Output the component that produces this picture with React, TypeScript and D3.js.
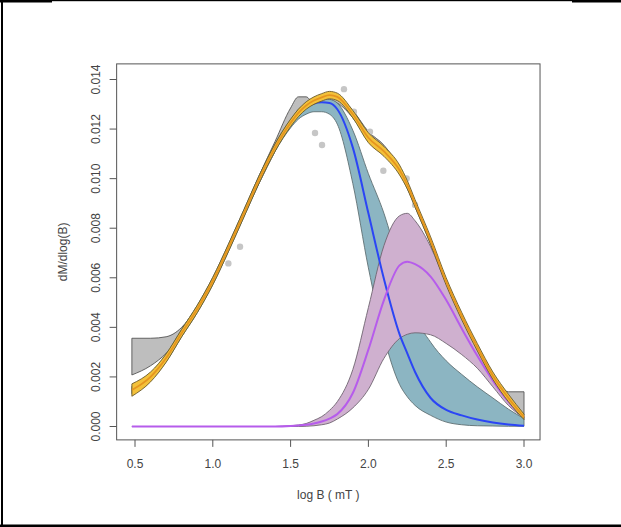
import React from "react";
import * as d3 from "d3";

// x grid (log B, mT)
const logB = [0.48, 0.6, 0.7, 0.8, 0.9, 1.0, 1.1, 1.2, 1.3, 1.4, 1.5, 1.55, 1.6, 1.65, 1.7, 1.75, 1.8, 1.9, 2.0, 2.1, 2.2, 2.25, 2.3, 2.4, 2.5, 2.6, 2.7, 2.8, 2.9, 3.0];

// all values in units of 1e-3
const dataHi = [3.56, 3.56, 3.62, 4.0, 4.85, 5.95, 7.3, 8.7, 10.15, 11.5, 12.85, 13.3, 13.3, 13.05, 13.2, 13.35, 13.3, 12.75, 11.9, 11.35, 10.45, 9.85, 9.05, 7.55, 5.9, 4.5, 3.25, 2.1, 1.4, 1.4];
const dataLo = [2.08, 2.45, 2.95, 3.7, 4.65, 5.8, 7.1, 8.5, 9.85, 11.1, 12.3, 12.8, 12.95, 12.9, 13.0, 13.15, 13.05, 12.45, 11.55, 11.0, 10.2, 9.6, 8.85, 7.35, 5.75, 4.35, 3.1, 1.9, 0.95, 0.45];

const total = [1.47, 2.0, 2.76, 3.77, 4.74, 5.87, 7.2, 8.6, 10.0, 11.25, 12.25, 12.65, 12.95, 13.15, 13.28, 13.37, 13.3, 12.6, 11.65, 11.1, 10.35, 9.75, 9.0, 7.5, 5.85, 4.45, 3.2, 2.05, 1.15, 0.38];
const totalHi = [1.72, 2.2, 2.93, 3.92, 4.89, 6.02, 7.35, 8.75, 10.15, 11.4, 12.4, 12.8, 13.1, 13.3, 13.43, 13.52, 13.45, 12.75, 11.85, 11.3, 10.55, 9.92, 9.15, 7.65, 6.0, 4.6, 3.35, 2.2, 1.3, 0.5];
const totalLo = [1.22, 1.8, 2.59, 3.62, 4.59, 5.72, 7.05, 8.45, 9.85, 11.1, 12.1, 12.5, 12.8, 13.0, 13.13, 13.22, 13.15, 12.45, 11.45, 10.9, 10.15, 9.58, 8.85, 7.35, 5.7, 4.3, 3.05, 1.9, 1.0, 0.28];

const blue = [1.47, 2.0, 2.76, 3.77, 4.74, 5.87, 7.2, 8.6, 10.0, 11.25, 12.23, 12.61, 12.88, 13.03, 13.08, 13.05, 12.8, 11.25, 8.6, 5.95, 3.73, 2.95, 2.2, 1.15, 0.67, 0.45, 0.28, 0.16, 0.08, 0.03];
const blueHi = [1.62, 2.15, 2.91, 3.92, 4.89, 6.02, 7.35, 8.75, 10.15, 11.4, 12.38, 12.75, 13.03, 13.17, 13.23, 13.2, 13.05, 11.95, 10.2, 8.6, 6.5, 5.5, 4.5, 3.4, 2.65, 2.1, 1.6, 1.15, 0.7, 0.32];
const blueLo = [1.32, 1.85, 2.61, 3.62, 4.59, 5.72, 7.05, 8.45, 9.85, 11.1, 12.05, 12.4, 12.6, 12.7, 12.7, 12.6, 12.2, 9.8, 6.4, 3.6, 1.7, 1.2, 0.85, 0.45, 0.18, 0.07, 0.03, 0.02, 0.01, 0.01];

const purple = [0, 0, 0, 0, 0, 0, 0, 0, 0, 0, 0.02, 0.04, 0.07, 0.12, 0.2, 0.32, 0.5, 1.35, 3.1, 5.1, 6.5, 6.65, 6.55, 6.05, 5.1, 3.95, 2.85, 1.85, 1.0, 0.36];
const purpleHi = [0, 0, 0, 0, 0, 0, 0, 0, 0, 0, 0.03, 0.06, 0.12, 0.25, 0.4, 0.65, 1.0, 2.3, 4.8, 7.3, 8.5, 8.6, 8.3, 7.25, 5.75, 4.35, 3.1, 2.0, 1.1, 0.37];
const purpleLo = [0, 0, 0, 0, 0, 0, 0, 0, 0, 0, 0, 0, 0.01, 0.03, 0.07, 0.14, 0.3, 0.75, 1.5, 2.75, 3.55, 3.72, 3.78, 3.7, 3.35, 2.9, 2.35, 1.6, 0.85, 0.33];

// measured data points (visible ones)
const ptsX = [1.843, 1.657, 1.702, 1.907, 2.01, 2.096, 2.246, 2.3, 1.175, 1.1];
const ptsY = [13.61, 11.84, 11.36, 12.7, 11.89, 10.32, 10.01, 8.94, 7.25, 6.58];

const xTicks = [0.5, 1.0, 1.5, 2.0, 2.5, 3.0];
const yTicks = [0, 0.002, 0.004, 0.006, 0.008, 0.01, 0.012, 0.014];
const xLim = [0.382, 3.103];
const yLim = [-0.00054, 0.01463];

const K = 1e-3;
const FONT = "Liberation Sans, Arial, Helvetica, sans-serif";

export default function App() {
  const x = d3.scaleLinear().domain([0.5, 3.0]).range([135, 524]);
  const y = d3.scaleLinear().domain([0, 0.014]).range([426.5, 79.5]);

  const band = (lo: number[], hi: number[]) =>
    d3
      .area<number>()
      .x((d) => x(d))
      .y0((_, i) => y(lo[i] * K))
      .y1((_, i) => y(hi[i] * K))
      .curve(d3.curveMonotoneX)(logB) || "";
  const line = (v: number[]) =>
    d3
      .line<number>()
      .x((d) => x(d))
      .y((_, i) => y(v[i] * K))
      .curve(d3.curveMonotoneX)(logB) || "";

  const bx0 = x(xLim[0]);
  const bx1 = x(xLim[1]);
  const by0 = y(yLim[1]);
  const by1 = y(yLim[0]);

  return (
    <svg width={621} height={527} style={{ position: "absolute", left: 0, top: 0, background: "#fff" }}>
      <rect x={0} y={0} width={621} height={527} fill="#fff" />
      {/* outer frame fragments */}
      <rect x={0} y={0} width={621} height={1.2} fill="#000" />
      <rect x={0} y={0} width={52} height={2.5} fill="#000" />
      <rect x={572} y={0} width={49} height={2.5} fill="#000" />
      <rect x={1} y={0} width={2} height={527} fill="#000" />
      <rect x={0} y={524.5} width={621} height={2.5} fill="#000" />

      {/* data envelope */}
      <path d={band(dataLo, dataHi)} fill="#BEBEBE" stroke="#555" strokeWidth={0.9} />
      {ptsX.map((px, i) => (
        <circle key={i} cx={x(px)} cy={y(ptsY[i] * K)} r={3.2} fill="#C6C6C6" />
      ))}
      {/* component bands */}
      <path d={band(blueLo, blueHi)} fill="#8CB5C2" stroke="#5f6f73" strokeWidth={0.9} />
      <path d={band(purpleLo, purpleHi)} fill="#CFB0CF" stroke="#6f6470" strokeWidth={0.9} />
      <path d={line(blue)} fill="none" stroke="#2B45F5" strokeWidth={2} />
      <path d={line(purple)} fill="none" stroke="#B65CEB" strokeWidth={2} />
      {/* total */}
      <path d={band(totalLo, totalHi)} fill="#F3C13A" stroke="#6b5a2a" strokeWidth={0.9} />
      <path d={line(total)} fill="none" stroke="#E6951F" strokeWidth={1.8} />

      {/* box */}
      <rect x={bx0} y={by0} width={bx1 - bx0} height={by1 - by0} fill="none" stroke="#555" strokeWidth={1} />

      {/* x axis */}
      {xTicks.map((t) => (
        <g key={t}>
          <line x1={x(t)} x2={x(t)} y1={by1} y2={by1 + 7} stroke="#555" />
          <text x={x(t)} y={468} textAnchor="middle" fontFamily={FONT} fontSize={12} fill="#444">
            {t.toFixed(1)}
          </text>
        </g>
      ))}
      {/* y axis */}
      {yTicks.map((t) => (
        <g key={t}>
          <line x1={bx0} x2={bx0 - 7} y1={y(t)} y2={y(t)} stroke="#555" />
          <text
            transform={`translate(100,${y(t)}) rotate(-90)`}
            textAnchor="middle"
            fontFamily={FONT}
            fontSize={12}
            fill="#444"
          >
            {t.toFixed(3)}
          </text>
        </g>
      ))}
      <text x={(bx0 + bx1) / 2} y={499} textAnchor="middle" fontFamily={FONT} fontSize={12} fill="#444">
        log B ( mT )
      </text>
      <text
        transform={`translate(67,${(by0 + by1) / 2}) rotate(-90)`}
        textAnchor="middle"
        fontFamily={FONT}
        fontSize={12}
        fill="#444"
      >
        dM/dlog(B)
      </text>
    </svg>
  );
}
